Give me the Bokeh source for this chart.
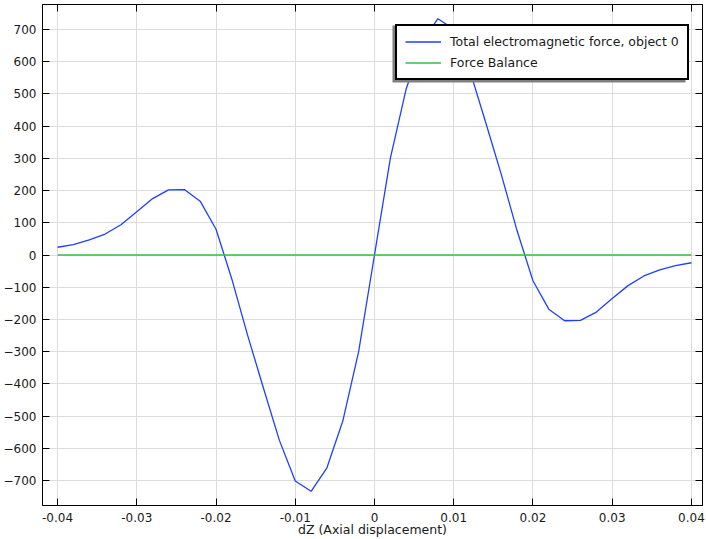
from bokeh.plotting import figure
from bokeh.models import (LinearAxis, SingleIntervalTicker, NumeralTickFormatter,
                          Legend, LegendItem, BoxAnnotation, Range1d, CustomLabelingPolicy)
from bokeh.embed import file_html
from bokeh.resources import INLINE

# ---- data ----
dz = [-0.040, -0.038, -0.036, -0.034, -0.032, -0.030, -0.028, -0.026, -0.024,
      -0.022, -0.020, -0.018, -0.016, -0.014, -0.012, -0.010, -0.008, -0.006,
      -0.004, -0.002, 0.000, 0.002, 0.004, 0.006, 0.008, 0.010, 0.012, 0.014,
      0.016, 0.018, 0.020, 0.022, 0.024, 0.026, 0.028, 0.030, 0.032, 0.034,
      0.036, 0.038, 0.040]
force = [24, 32, 47, 65, 94, 134, 175, 202, 203,
         167, 80, -75, -250, -414, -575, -701, -733, -660,
         -515, -300, 0, 300, 515, 660, 733, 701, 575, 414,
         250, 75, -80, -168, -204, -203, -177, -135, -95, -65,
         -46, -33, -24]
balance_x = [-0.04, 0.04]
balance_y = [0, 0]

label_force = "Total electromagnetic force, object 0"
label_balance = "Force Balance"
x_label = "dZ (Axial displacement)"

FONT = "DejaVu Sans"
FS_TICK = "12px"
FS = "12.5px"
TXT = "#1a1a1a"

W, H = 706, 539
p = figure(width=W, height=H, output_backend="svg", toolbar_location=None,
           x_range=Range1d(-0.0419, 0.0414), y_range=Range1d(-777, 777),
           min_border_left=0, min_border_right=0, min_border_top=0, min_border_bottom=0,
           x_axis_label=x_label)
p.outline_line_color = "black"
p.outline_line_width = 1
p.background_fill_color = "white"

r_force = p.line(dz, force, line_color="#1f3fff", line_width=1.3)
r_bal = p.line(balance_x, balance_y, line_color="#33c040", line_width=1.3)

for ax in p.xaxis:
    ax.ticker = SingleIntervalTicker(interval=0.01)
    ax.formatter = NumeralTickFormatter(format="0.[00]")
    ax.major_label_standoff = 3
    ax.axis_label_standoff = -3
for ax in p.yaxis:
    ax.ticker = SingleIntervalTicker(interval=100)
    ax.major_label_standoff = 2

for ax in list(p.xaxis) + list(p.yaxis):
    ax.major_tick_in = 7
    ax.major_tick_out = 0
    ax.minor_tick_line_color = None
    ax.axis_line_color = "black"
    ax.major_tick_line_color = "black"
    ax.major_label_text_font = FONT
    ax.major_label_text_font_size = FS_TICK
    ax.major_label_text_color = TXT
    ax.axis_label_text_font = FONT
    ax.axis_label_text_font_size = FS
    ax.axis_label_text_font_style = "normal"
    ax.axis_label_text_color = TXT

no_labels = CustomLabelingPolicy(code="return []")
no_labels2 = CustomLabelingPolicy(code="return []")
top_ax = LinearAxis(ticker=SingleIntervalTicker(interval=0.01), major_tick_in=7,
                    major_tick_out=0, minor_tick_line_color=None,
                    major_label_text_font_size="0px", major_label_standoff=0,
                    major_label_policy=no_labels, axis_line_color="black")
right_ax = LinearAxis(ticker=SingleIntervalTicker(interval=100), major_tick_in=7,
                      major_tick_out=0, minor_tick_line_color=None,
                      major_label_text_font_size="0px", major_label_standoff=0,
                      major_label_policy=no_labels2, axis_line_color="black")
p.add_layout(top_ax, "above")
p.add_layout(right_ax, "right")

p.grid.grid_line_color = "#dcdcdc"
p.grid.grid_line_width = 1
p.xgrid.ticker = SingleIntervalTicker(interval=0.01)
p.ygrid.ticker = SingleIntervalTicker(interval=100)

shadow = BoxAnnotation(left=392, right=685, top=25, bottom=82,
                       left_units="canvas", right_units="canvas",
                       top_units="canvas", bottom_units="canvas",
                       fill_color="#808080", fill_alpha=1.0, line_alpha=0)
p.add_layout(shadow)

legend = Legend(items=[LegendItem(label=label_force, renderers=[r_force]),
                       LegendItem(label=label_balance, renderers=[r_bal])],
                location=(353, 425), padding=8, spacing=6,
                label_height=15, glyph_height=15, glyph_width=36, label_standoff=9,
                label_text_font=FONT, label_text_font_size=FS, label_text_color=TXT,
                border_line_color="black", border_line_width=2, border_line_alpha=1.0,
                background_fill_color="white", background_fill_alpha=1.0)
p.add_layout(legend, "center")

open("out.html", "w").write(file_html(p, INLINE))
